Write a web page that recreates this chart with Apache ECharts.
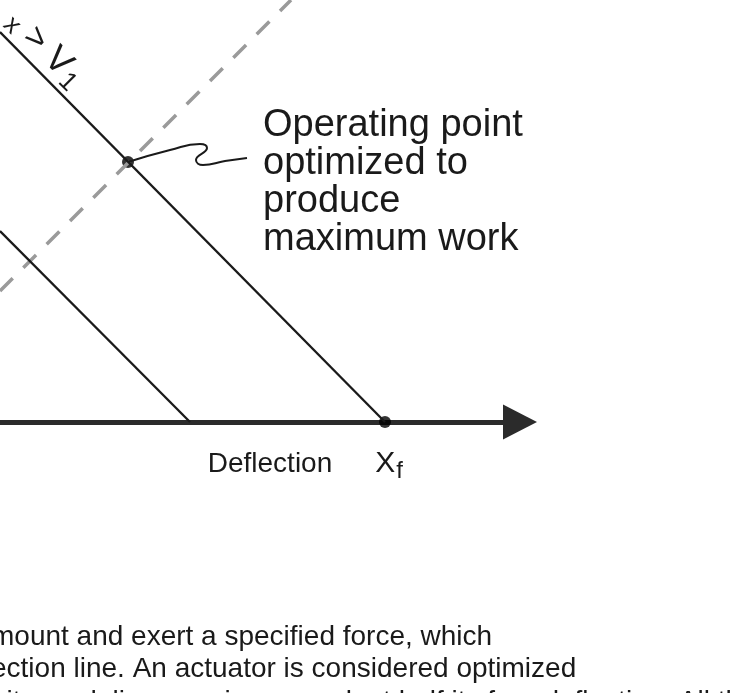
<!DOCTYPE html>
<html>
<head>
<meta charset="utf-8">
<script src="https://cdn.jsdelivr.net/npm/echarts@6/dist/echarts.min.js"></script>
<style>
html, body { margin: 0; padding: 0; background: #fff; }
#main { width: 737px; height: 693px; }
</style>
</head>
<body>
<div id="main"></div>
<script>
// force / deflection lines (arbitrary units, axis origin at left edge)
var outerLine = [[0, 390], [385, 0]];      // higher voltage line, ends at Xf
var innerLine = [[0, 191], [190, 0]];      // V1 line
var loadLine = [[0, 131], [291, 422]];     // dashed grey line
var opPoints = [[128, 260], [385, 0]];     // operating point, Xf
var squiggle = [[128, 260], [170, 272], [200, 278], [207, 274], [196, 262], [203, 257], [225, 261], [247, 264]];
// labels under the deflection axis
var tickValues = [270, 385];
var tickNames = ['Deflection', 'Xf'];

var myChart = echarts.init(document.getElementById('main'));
var font = 'Liberation Sans, Arial, Helvetica, sans-serif';

var option = {
	animation: false,
	grid: { left: 0, top: 0, width: 520, height: 422 },
	xAxis: {
		type: 'value',
		min: 0,
		max: 520,
		axisLine: {
			show: true,
			symbol: ['none', 'triangle'],
			symbolSize: [35, 34],
			lineStyle: { color: '#2b2b2b', width: 5 }
		},
		axisTick: { show: false },
		splitLine: { show: false },
		axisLabel: {
			customValues: tickValues,
			margin: 42,
			verticalAlign: 'middle',
			formatter: function (v) {
				var i = tickValues.indexOf(v);
				if (i < 0) return '';
				if (tickNames[i] === 'Xf') return '{x|X}{s|f}';
				return '{d|' + tickNames[i] + '}';
			},
			rich: {
				d: { fontFamily: font, fontSize: 28, color: '#1a1a1a' },
				x: { fontFamily: font, fontSize: 30, color: '#1a1a1a', padding: [0, 0, 0, 8] },
				s: { fontFamily: font, fontSize: 24, color: '#1a1a1a', padding: [14, 0, 0, 1] }
			}
		}
	},
	yAxis: { type: 'value', min: 0, max: 422, show: false },
	series: [
		{ type: 'line', data: loadLine, symbol: 'none', silent: true,
			lineStyle: { color: '#9a9a9a', width: 3.5, type: [18, 15] } },
		{ type: 'line', data: outerLine, symbol: 'none', lineStyle: { color: '#1a1a1a', width: 2.3 } },
		{ type: 'line', data: innerLine, symbol: 'none', lineStyle: { color: '#1a1a1a', width: 2.3 } },
		{ type: 'line', data: squiggle, symbol: 'none', smooth: 0.5, lineStyle: { color: '#1a1a1a', width: 2 } },
		{ type: 'scatter', data: opPoints, symbolSize: 12, itemStyle: { color: '#000' } }
	],
	graphic: [
		{ type: 'text', left: 263, top: 107,
			style: { text: 'Operating point\noptimized to\nproduce\nmaximum work',
				font: '38px ' + font, lineHeight: 38, fill: '#1a1a1a' } },
		{ type: 'text', x: 27, y: 1, rotation: -Math.PI / 4,
			style: { text: '{s|x}{g|>}{v|V}{t|1}', fill: '#1a1a1a',
				rich: {
					g: { font: '34px ' + font, fill: '#1a1a1a', padding: [0, 10, 0, 10] },
					v: { font: '36px ' + font, fill: '#1a1a1a' },
					s: { font: '26px ' + font, fill: '#1a1a1a', padding: [14, 0, 0, 0] },
					t: { font: '26px ' + font, fill: '#1a1a1a', padding: [16, 0, 0, 2] }
				} } },
		{ type: 'text', x: -9, y: 621,
			style: { text: 'mount and exert a specified force, which\nection line. An actuator is considered optimized\nf it can deliver maximum work at half its free deflection. All the',
				font: '28px ' + font, lineHeight: 32.5, fill: '#1a1a1a' } }
	]
};
myChart.setOption(option);
</script>
</body>
</html>
